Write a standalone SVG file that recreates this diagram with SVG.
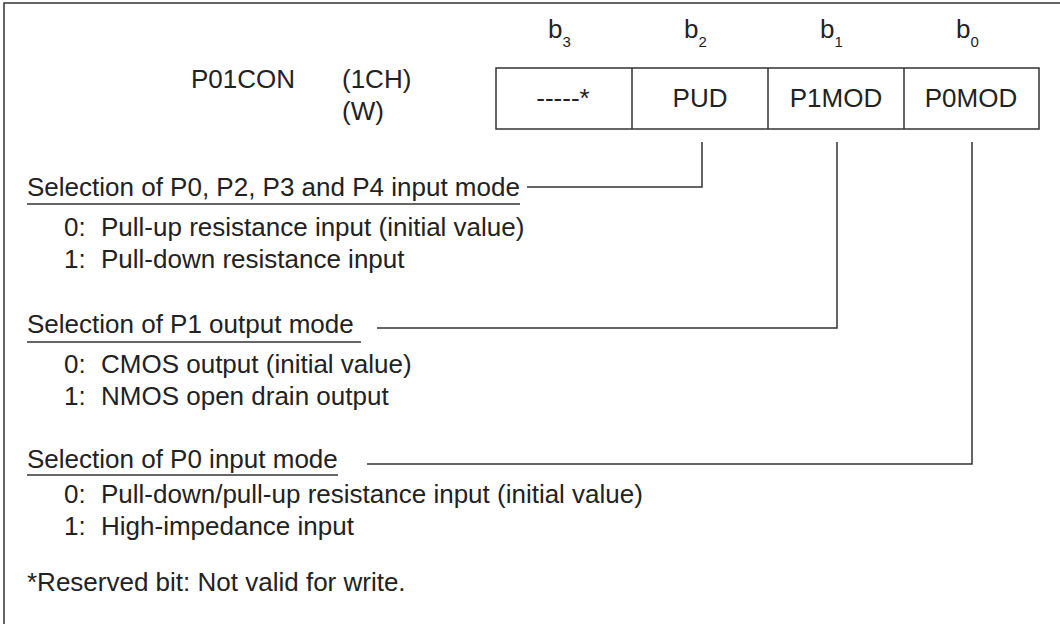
<svg xmlns="http://www.w3.org/2000/svg" width="1060" height="624" viewBox="0 0 1060 624">
<style>
text{font-family:"Liberation Sans",Arial,sans-serif;font-size:26px;fill:#222}
.sub{font-size:15px}
.c{text-anchor:middle}
.ln{stroke:#333;stroke-width:1.5;fill:none}
</style>
<rect width="1060" height="624" fill="#fff"/>
<path class="ln" d="M4,624 V3 H1060"/>
<g id="title">
<text x="191" y="88">P01CON</text>
<text x="342" y="88">(1CH)</text>
<text x="342" y="120">(W)</text>
</g>
<g id="bits">
<text x="548" y="38">b<tspan class="sub" dy="9">3</tspan></text>
<text x="684" y="38">b<tspan class="sub" dy="9">2</tspan></text>
<text x="820" y="38">b<tspan class="sub" dy="9">1</tspan></text>
<text x="956" y="38">b<tspan class="sub" dy="9">0</tspan></text>
</g>
<g id="register">
<rect class="ln" x="496" y="68" width="543" height="61"/>
<path class="ln" d="M632,68V129M768,68V129M904,68V129"/>
<text class="c" x="563" y="107">-----*</text>
<text class="c" x="700" y="107">PUD</text>
<text class="c" x="836" y="107">P1MOD</text>
<text class="c" x="971" y="107">P0MOD</text>
</g>
<g id="connectors">
<path class="ln" d="M702,142V187H527"/>
<path class="ln" d="M837,142V328H377"/>
<path class="ln" d="M972,142V464H367"/>
</g>
<g id="pud">
<text x="27" y="196">Selection of P0, P2, P3 and P4 input mode</text>
<path class="ln" d="M27,204H520"/>
<text y="236"><tspan x="64">0:</tspan><tspan x="101">Pull-up resistance input (initial value)</tspan></text>
<text y="268"><tspan x="64">1:</tspan><tspan x="101">Pull-down resistance input</tspan></text>
</g>
<g id="p1mod">
<text x="27" y="333">Selection of P1 output mode</text>
<path class="ln" d="M27,342H361"/>
<text y="373"><tspan x="64">0:</tspan><tspan x="101">CMOS output (initial value)</tspan></text>
<text y="405"><tspan x="64">1:</tspan><tspan x="101">NMOS open drain output</tspan></text>
</g>
<g id="p0mod">
<text x="27" y="468">Selection of P0 input mode</text>
<path class="ln" d="M27,475H338"/>
<text y="503"><tspan x="64">0:</tspan><tspan x="101">Pull-down/pull-up resistance input (initial value)</tspan></text>
<text y="535"><tspan x="64">1:</tspan><tspan x="101">High-impedance input</tspan></text>
</g>
<g id="note">
<text x="27" y="591">*Reserved bit: Not valid for write.</text>
</g>
</svg>
